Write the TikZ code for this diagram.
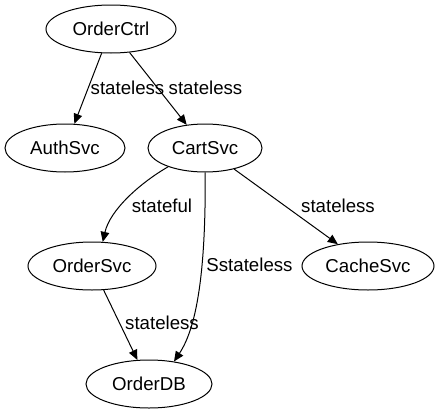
\documentclass[tikz,border=0pt]{standalone}
\usepackage{fontspec}
\setmainfont{Liberation Sans}
\usetikzlibrary{shapes.geometric,arrows.meta}
\begin{document}
\begin{tikzpicture}[x=0.75pt,y=-0.75pt,
  every node/.style={font=\fontsize{14pt}{16pt}\selectfont, inner sep=0pt},
  svc/.style={draw, ellipse, line width=0.75pt, minimum height=36pt},
  lbl/.style={anchor=center},
  edge/.style={draw, line width=0.75pt, -{Triangle[length=7.5pt,width=6.5pt]}}]
\useasboundingbox (0,0) rectangle (439,414);
\node[svc, minimum width=97.5pt] (oc) at (111,29) {OrderCtrl};
\node[svc, minimum width=90pt] (as) at (65,148) {AuthSvc};
\node[svc, minimum width=85.5pt] (cs) at (205,148) {CartSvc};
\node[svc, minimum width=96pt] (os) at (92,266) {OrderSvc};
\node[svc, minimum width=99pt] (ch) at (368,266) {CacheSvc};
\node[svc, minimum width=94.5pt] (db) at (149,384) {OrderDB};

\draw[edge] (oc) -- (as);
\draw[edge] (oc) -- (cs);
\draw[edge] (cs.207) .. controls (140,183) and (110,210) .. (os.66);
\draw[edge] (cs) .. controls (206,280) and (195,330) .. (db.42);
\draw[edge] (cs) -- (ch);
\draw[edge] (os) -- (db);

\node[lbl] (l1) at (127.5,88) {stateless};
\node[lbl] (l2) at (205.5,88) {stateless};
\node[lbl] (l3) at (162,206) {stateful};
\node[lbl] (l4) at (249.5,265) {Sstateless};
\node[lbl] (l5) at (338,206) {stateless};
\node[lbl] (l6) at (162,323) {stateless};
\end{tikzpicture}
\end{document}
